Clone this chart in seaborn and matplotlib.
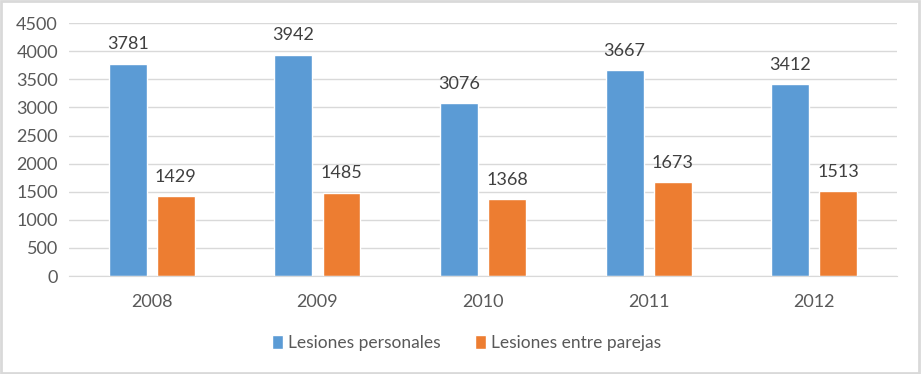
import pandas as pd
import matplotlib.pyplot as plt
import seaborn as sns
from matplotlib.patches import Rectangle

years = ['2008', '2009', '2010', '2011', '2012']
personales = [3781, 3942, 3076, 3667, 3412]
parejas = [1429, 1485, 1368, 1673, 1513]
series_names = ['Lesiones personales', 'Lesiones entre parejas']
colors = ['#5B9BD5', '#ED7D31']

df = pd.DataFrame({
    'year': years * 2,
    'value': personales + parejas,
    'serie': [series_names[0]] * len(years) + [series_names[1]] * len(years),
})

sns.set_style('white')
plt.rcParams['font.family'] = ['Lato', 'DejaVu Sans']

fig = plt.figure(figsize=(9.21, 3.74), dpi=100)
ax = fig.add_axes([0.075, 0.262, 0.899, 0.676])

sns.barplot(data=df, x='year', y='value', hue='serie', palette=colors,
            width=0.58, gap=0.21, ax=ax, saturation=1)

for cont in ax.containers:
    ax.bar_label(cont, padding=8, fontsize=13, color='#404040')

ax.set_ylim(0, 4500)
ax.set_yticks(range(0, 4501, 500))
ax.set_xlim(-0.5, 4.5)
ax.yaxis.grid(True, color='#D9D9D9', linewidth=1)
ax.set_axisbelow(True)
for s in ['left', 'right', 'top']:
    ax.spines[s].set_visible(False)
ax.spines['bottom'].set_color('#D9D9D9')
ax.tick_params(axis='both', length=0, labelsize=13, labelcolor='#595959')
ax.tick_params(axis='y', pad=8)
ax.tick_params(axis='x', pad=13)
ax.set_xlabel('')
ax.set_ylabel('')

ax.legend(loc='center', bbox_to_anchor=(0.48, -0.265), ncol=2, frameon=False,
          fontsize=12.5, labelcolor='#595959', handlelength=0.6, handleheight=0.9,
          handletextpad=0.3, columnspacing=2.0)

fig.patches.append(Rectangle((0.001, 0.002), 0.997, 0.995, transform=fig.transFigure,
                             fill=False, edgecolor='#D9D9D9', linewidth=2))

fig.savefig('out.png', dpi=100)
